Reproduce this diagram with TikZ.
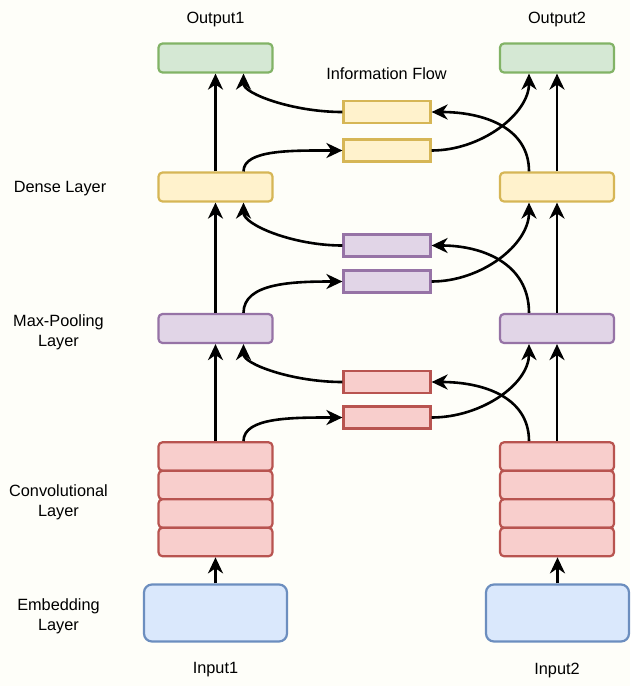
\documentclass[tikz,border=0pt]{standalone}
\usepackage{fontspec}
\setmainfont{Liberation Sans}
\usetikzlibrary{arrows.meta}

\definecolor{bgpaper}{RGB}{254,254,249}
\definecolor{greenfill}{HTML}{D5E8D4}
\definecolor{greenline}{HTML}{82B366}
\definecolor{yellowfill}{HTML}{FFF2CC}
\definecolor{yellowline}{HTML}{D6B656}
\definecolor{purplefill}{HTML}{E1D5E7}
\definecolor{purpleline}{HTML}{9673A6}
\definecolor{redfill}{HTML}{F8CECC}
\definecolor{redline}{HTML}{B85450}
\definecolor{bluefill}{HTML}{DAE8FC}
\definecolor{blueline}{HTML}{6C8EBF}

\tikzset{
  layer/.style={draw, line width=2.2pt, rounded corners=4pt, inner sep=0pt,
    minimum width=114pt, minimum height=29pt},
  flowbox/.style={draw, line width=2.2pt, inner sep=0pt,
    minimum width=87pt, minimum height=22pt},
  flowarrow/.style={line width=2.6pt, arrows={-Stealth[length=16pt,width=15pt,inset=5pt]}},
  lbl/.style={align=center, inner sep=0pt},
}

\begin{document}
\begin{tikzpicture}[x=1pt,y=1pt,font=\fontsize{16.3}{20}\selectfont]

  \fill[bgpaper] (0,0) rectangle (630,-686);
  \useasboundingbox (0,0) rectangle (630,-686);

  \draw (215.5,-58) node (out1) [layer,fill=greenfill,draw=greenline] {};
  \draw (557,-58) node (out2) [layer,fill=greenfill,draw=greenline] {};
  \draw (215.5,-187) node (dense1) [layer,fill=yellowfill,draw=yellowline] {};
  \draw (557,-187) node (dense2) [layer,fill=yellowfill,draw=yellowline] {};
  \draw (215.5,-328.5) node (pool1) [layer,fill=purplefill,draw=purpleline] {};
  \draw (557,-328.5) node (pool2) [layer,fill=purplefill,draw=purpleline] {};

  \draw (215.5,-456.5) node (conv1a) [layer,minimum height=28.5pt,fill=redfill,draw=redline] {};
  \draw (215.5,-485) node (conv1b) [layer,minimum height=28.5pt,fill=redfill,draw=redline] {};
  \draw (215.5,-513.5) node (conv1c) [layer,minimum height=28.5pt,fill=redfill,draw=redline] {};
  \draw (215.5,-542) node (conv1d) [layer,minimum height=28.5pt,fill=redfill,draw=redline] {};
  \draw (557,-456.5) node (conv2a) [layer,minimum height=28.5pt,fill=redfill,draw=redline] {};
  \draw (557,-485) node (conv2b) [layer,minimum height=28.5pt,fill=redfill,draw=redline] {};
  \draw (557,-513.5) node (conv2c) [layer,minimum height=28.5pt,fill=redfill,draw=redline] {};
  \draw (557,-542) node (conv2d) [layer,minimum height=28.5pt,fill=redfill,draw=redline] {};

  \draw (215.5,-613) node (emb1) [layer,minimum width=143pt,minimum height=57pt,rounded corners=8pt,fill=bluefill,draw=blueline] {};
  \draw (557.5,-613) node (emb2) [layer,minimum width=143pt,minimum height=57pt,rounded corners=8pt,fill=bluefill,draw=blueline] {};

  \draw (387,-112) node (yflow1) [flowbox,fill=yellowfill,draw=yellowline] {};
  \draw (387,-150.5) node (yflow2) [flowbox,fill=yellowfill,draw=yellowline] {};
  \draw (387,-245.5) node (pflow1) [flowbox,fill=purplefill,draw=purpleline] {};
  \draw (387,-281.5) node (pflow2) [flowbox,fill=purplefill,draw=purpleline] {};
  \draw (387,-382) node (rflow1) [flowbox,fill=redfill,draw=redline] {};
  \draw (387,-417.5) node (rflow2) [flowbox,fill=redfill,draw=redline] {};

  \node (tout1) [lbl] at (215.5,-19) {Output1};
  \node (tout2) [lbl] at (557,-19) {Output2};
  \node (tflow) [lbl] at (386.5,-74) {Information Flow};
  \node (tin1) [lbl] at (215.5,-670) {Input1};
  \node (tin2) [lbl] at (557,-670) {Input2};
  \node (tdense) [lbl] at (60,-189) {Dense Layer};
  \node (tpool) [lbl] at (58.5,-332) {Max-Pooling\\Layer};
  \node (tconv) [lbl] at (58.5,-502.5) {Convolutional\\Layer};
  \node (temb) [lbl] at (58.5,-616) {Embedding\\Layer};

  \draw[flowarrow] (emb1) -- (conv1d);
  \draw[flowarrow] (conv1a) -- (pool1);
  \draw[flowarrow] (pool1) -- (dense1);
  \draw[flowarrow] (dense1) -- (out1);
  \draw[flowarrow] (emb2.north) -- (conv2d.south -| emb2.north);
  \draw[flowarrow] (conv2a) -- (pool2);
  \draw[flowarrow] (pool2) -- (dense2);
  \draw[flowarrow] (dense2) -- (out2);

  \draw[flowarrow] ([xshift=28pt]dense1.north) .. controls +(0,22) and +(-50,0) .. (yflow2.west);
  \draw[flowarrow] (yflow1.west) .. controls +(-50,0) and +(0,-20) .. ([xshift=28pt]out1.south);
  \draw[flowarrow] ([xshift=-28pt]dense2.north) .. controls +(0,45) and +(50,0) .. (yflow1.east);
  \draw[flowarrow] (yflow2.east) .. controls +(50,0) and +(0,-40) .. ([xshift=-28pt]out2.south);

  \draw[flowarrow] ([xshift=28pt]pool1.north) .. controls +(0,30) and +(-50,0) .. (pflow2.west);
  \draw[flowarrow] (pflow1.west) .. controls +(-50,0) and +(0,-22) .. ([xshift=28pt]dense1.south);
  \draw[flowarrow] ([xshift=-28pt]pool2.north) .. controls +(0,50) and +(50,0) .. (pflow1.east);
  \draw[flowarrow] (pflow2.east) .. controls +(50,0) and +(0,-42) .. ([xshift=-28pt]dense2.south);

  \draw[flowarrow] ([xshift=28pt]conv1a.north) .. controls +(0,24) and +(-50,0) .. (rflow2.west);
  \draw[flowarrow] (rflow1.west) .. controls +(-50,0) and +(0,-20) .. ([xshift=28pt]pool1.south);
  \draw[flowarrow] ([xshift=-28pt]conv2a.north) .. controls +(0,45) and +(50,0) .. (rflow1.east);
  \draw[flowarrow] (rflow2.east) .. controls +(50,0) and +(0,-40) .. ([xshift=-28pt]pool2.south);

\end{tikzpicture}
\end{document}
